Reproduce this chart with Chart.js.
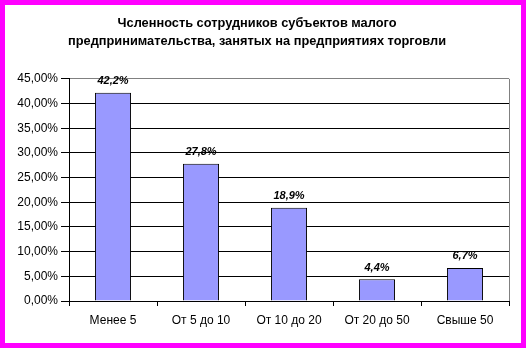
<!DOCTYPE html>
<html>
<head>
<meta charset="utf-8">
<script src="https://cdn.jsdelivr.net/npm/chart.js@4"></script>
<style>
    body { margin: 0; background: #fff; }
    #frame { width: 526px; height: 348px; box-sizing: border-box; border: 5px solid #ff00ff; background: #fff; }
    canvas { display: block; }
</style>
</head>
<body>
<div id="frame"><canvas id="staffChart" width="516" height="338"></canvas></div>
<script>
// Chart data
const categories = ['Менее 5', 'От 5 до 10', 'От 10 до 20', 'От 20 до 50', 'Свыше 50'];
const shares = [42.2, 27.8, 18.9, 4.4, 6.7];
const yTicks = [0, 5, 10, 15, 20, 25, 30, 35, 40, 45];

const FONT = "'Liberation Sans', Arial, sans-serif";

// Draw value labels above each bar
const valueLabels = {
    id: 'valueLabels',
    afterDatasetsDraw(chart) {
        const ctx = chart.ctx;
        const meta = chart.getDatasetMeta(0);
        ctx.save();
        ctx.font = 'italic bold 11px ' + FONT;
        ctx.fillStyle = '#000';
        ctx.textAlign = 'center';
        ctx.textBaseline = 'bottom';
        meta.data.forEach(function(bar, i) {
            const text = shares[i].toFixed(1).replace('.', ',') + '%';
            ctx.fillText(text, bar.x, bar.y - 6);
        });
        ctx.restore();
    }
};

new Chart(document.getElementById('staffChart').getContext('2d'), {
    type: 'bar',
    data: {
        labels: categories,
        datasets: [{
            data: shares,
            backgroundColor: '#9999ff',
            borderColor: '#000',
            borderWidth: 1,
            categoryPercentage: 1,
            barPercentage: 0.41
        }]
    },
    options: {
        responsive: false,
        animation: false,
        layout: { padding: { left: 0, right: 12, top: 0, bottom: 0 } },
        plugins: {
            legend: { display: false },
            tooltip: { enabled: false },
            title: {
                display: true,
                text: ['Чсленность сотрудников субъектов малого',
                       'предпринимательства, занятых на предприятиях торговли'],
                color: '#000',
                font: { family: FONT, size: 12.8, weight: 'bold', lineHeight: 1.4 },
                padding: { top: 10, bottom: 28 }
            }
        },
        scales: {
            x: {
                afterFit: function(scale) { scale.height = 42; },
                grid: {
                    offset: true,
                    drawOnChartArea: true,
                    color: function(c) { return c.type === 'scale' ? '#808080' : 'rgba(0,0,0,0)'; },
                    tickColor: '#000',
                    tickLength: 5
                },
                border: { color: '#000', width: 1 },
                ticks: {
                    color: '#000',
                    padding: 7,
                    font: { family: FONT, size: 12 }
                }
            },
            y: {
                min: 0,
                max: 45,
                afterFit: function(scale) { scale.width = 64; },
                afterBuildTicks: function(scale) {
                    scale.ticks = yTicks.map(function(v) { return { value: v }; });
                },
                grid: {
                    color: function(c) { return c.index === yTicks.length - 1 ? '#808080' : '#000'; },
                    tickColor: '#000',
                    tickLength: 8
                },
                border: { color: '#000', width: 1 },
                ticks: {
                    color: '#000',
                    padding: 3,
                    font: { family: FONT, size: 12 },
                    callback: function(v) { return v.toFixed(2).replace('.', ',') + '%'; }
                }
            }
        }
    },
    plugins: [valueLabels]
});
</script>
</body>
</html>
